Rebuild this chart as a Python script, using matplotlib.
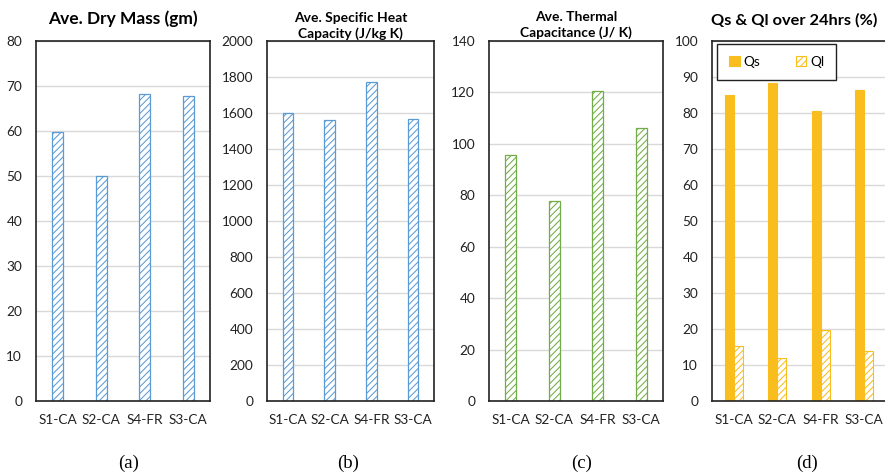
import matplotlib
matplotlib.use('Agg')
import matplotlib.pyplot as plt

plt.rcParams['font.family'] = ['Lato', 'DejaVu Sans']
plt.rcParams['hatch.linewidth'] = 0.75

# ── Data ──────────────────────────────────────────────────────────────────────
samples = ['S1-CA', 'S2-CA', 'S4-FR', 'S3-CA']
dry_mass = [59.8, 50.0, 68.2, 67.8]             # gm
spec_heat = [1598, 1560, 1773, 1568]             # J/kg K
therm_cap = [95.6, 77.6, 120.5, 106.2]           # J/K
qs_pct = [85.0, 88.2, 80.5, 86.3]                # %
ql_pct = [15.3, 12.0, 19.7, 14.0]                # %

BLUE = '#5B9BD5'
GREEN = '#70AD47'
GOLD = '#F9BE1E'
GRID = '#D9D9D9'

W, H = 885, 476
fig = plt.figure(figsize=(W / 100, H / 100), dpi=100)

def px_axes(x0, x1, y0=41, y1=401):
    return fig.add_axes([x0 / W, (H - y1) / H, (x1 - x0) / W, (y1 - y0) / H])

def style(ax, ymax, step):
    ax.set_xlim(-0.5, 3.5)
    ax.set_ylim(0, ymax)
    ax.set_yticks(range(0, ymax + 1, step))
    ax.set_xticks(range(len(samples)))
    ax.set_xticklabels(samples)
    ax.tick_params(length=0, labelsize=9.8, colors='#222222')
    ax.tick_params(axis='y', pad=10)
    ax.tick_params(axis='x', pad=9)
    ax.grid(axis='y', color=GRID, lw=1)
    ax.set_axisbelow(True)
    for s in ax.spines.values():
        s.set_color('#222222')
        s.set_linewidth(1.2)

x = range(len(samples))

# ── (a) dry mass ──────────────────────────────────────────────────────────────
ax1 = px_axes(36, 210)
ax1.bar(x, dry_mass, width=0.25, color='white', edgecolor=BLUE, hatch='/////', lw=0.9)
style(ax1, 80, 10)
ax1.set_title('Ave. Dry Mass (gm)', fontsize=12.5, fontweight='bold', pad=12)

# ── (b) specific heat ─────────────────────────────────────────────────────────
ax2 = px_axes(267, 434)
ax2.bar(x, spec_heat, width=0.25, color='white', edgecolor=BLUE, hatch='/////', lw=0.9)
style(ax2, 2000, 200)
ax2.set_title('Ave. Specific Heat\nCapacity (J/kg K)', fontsize=10, fontweight='bold',
              pad=2, linespacing=1.35)

# ── (c) thermal capacitance ───────────────────────────────────────────────────
ax3 = px_axes(489, 663)
ax3.bar(x, therm_cap, width=0.25, color='white', edgecolor=GREEN, hatch='/////', lw=0.9)
style(ax3, 140, 20)
ax3.set_title('Ave. Thermal\nCapacitance (J/ K)', fontsize=10, fontweight='bold',
              pad=3, linespacing=1.35)

# ── (d) Qs & Ql ───────────────────────────────────────────────────────────────
ax4 = px_axes(712, 886)
bw = 0.21
ax4.bar([i - bw / 2 for i in x], qs_pct, width=bw, color=GOLD, edgecolor=GOLD, lw=0.8, label='Qs')
ax4.bar([i + bw / 2 for i in x], ql_pct, width=bw, color='white', edgecolor=GOLD,
        hatch='/////', lw=0.8, label='Ql')
style(ax4, 100, 10)
ax4.set_title('Qs & Ql over 24hrs (%)', fontsize=11.8, fontweight='bold', pad=12,
              x=0.47, ha='center')
leg = ax4.legend(ncol=2, loc='upper left', bbox_to_anchor=(0.029, 0.992), borderaxespad=0,
                 fontsize=9.8, handlelength=0.75, handleheight=0.75, handletextpad=0.3,
                 columnspacing=2.6, borderpad=0.9, fancybox=False, framealpha=1)
leg.get_frame().set_edgecolor('#222222')
leg.get_frame().set_linewidth(1.0)

# ── panel captions ────────────────────────────────────────────────────────────
for lab, cx in zip(['(a)', '(b)', '(c)', '(d)'], [129, 348, 582, 807]):
    fig.text(cx / W, 1 - 463 / H, lab, ha='center', va='center', fontsize=13.5,
             family='Liberation Serif')

fig.savefig('out.png', dpi=100)
